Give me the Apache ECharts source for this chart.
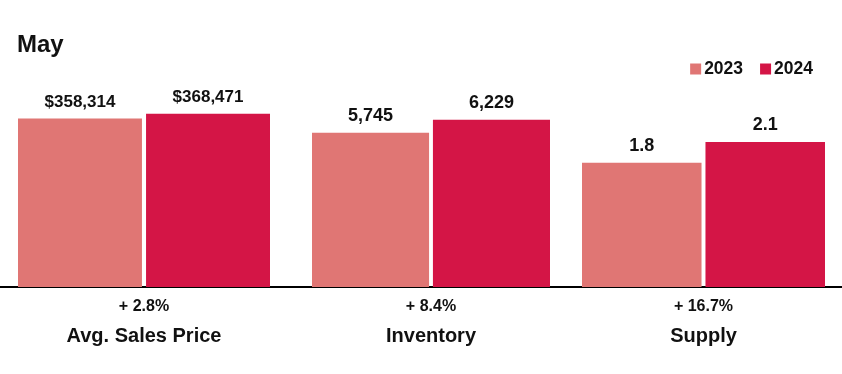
<!DOCTYPE html>
<html>
<head>
<meta charset="utf-8">
<style>
html,body{margin:0;padding:0;background:#fff;}
#chart{width:842px;height:374px;}
</style>
<script src="https://cdn.jsdelivr.net/npm/echarts@6/dist/echarts.min.js"></script>
</head>
<body>
<div id="chart"></div>
<script>
const title = 'May';
const years = ['2023', '2024'];
const categories = ['Avg. Sales Price', 'Inventory', 'Supply'];
const changes = ['+ 2.8%', '+ 8.4%', '+ 16.7%'];
const values2023 = [358314, 5745, 1.8];
const values2024 = [368471, 6229, 2.1];
const axisMax = [525000, 9196, 3.577];

const colors = ['#E07674', '#D41546'];
const FONT = '"Liberation Sans", Arial, Helvetica, sans-serif';

const gridPos = [
  { left: 18, width: 252 },
  { left: 312, width: 238 },
  { left: 582, width: 243 }
];
const valueFont = [17, 18, 18];

function fmt(i, v) {
  if (i === 0) return '$' + v.toLocaleString('en-US');
  if (i === 1) return v.toLocaleString('en-US');
  return v.toFixed(1);
}

const grid = [], xAxis = [], yAxis = [], series = [];
categories.forEach((cat, i) => {
  grid.push({ left: gridPos[i].left, width: gridPos[i].width, top: 40, bottom: 87 });
  xAxis.push({
    type: 'category', gridIndex: i, data: [cat],
    axisLine: { show: false }, axisTick: { show: false },
    axisLabel: {
      margin: 10,
      formatter: () => '{pct|' + changes[i] + '}\n{name|' + cat + '}',
      rich: {
        pct: { fontFamily: FONT, fontSize: 16, fontWeight: 'bold', color: '#111', lineHeight: 20 },
        name: { fontFamily: FONT, fontSize: 20, fontWeight: 'bold', color: '#111', lineHeight: 38 }
      }
    }
  });
  yAxis.push({ type: 'value', gridIndex: i, min: 0, max: axisMax[i], show: false, splitLine: { show: false } });
  [values2023, values2024].forEach((vals, s) => {
    series.push({
      name: years[s], type: 'bar', xAxisIndex: i, yAxisIndex: i,
      data: [vals[i]],
      barGap: '3.3%', barCategoryGap: '0%',
      itemStyle: { color: colors[s] },
      label: {
        show: true, position: 'top', distance: 8,
        fontFamily: FONT, fontSize: valueFont[i], fontWeight: 'bold', color: '#111',
        formatter: (p) => fmt(i, p.value)
      }
    });
  });
});

// full-width baseline
grid.push({ left: 0, right: 0, top: 40, bottom: 87 });
xAxis.push({ type: 'value', gridIndex: 3, min: 0, max: 1, axisLine: { show: true, onZero: false, lineStyle: { color: '#000', width: 2 } }, axisTick: { show: false }, axisLabel: { show: false }, splitLine: { show: false } });
yAxis.push({ type: 'value', gridIndex: 3, show: false, splitLine: { show: false } });

const chart = echarts.init(document.getElementById('chart'), null, { renderer: 'canvas' });
chart.setOption({
  animation: false,
  backgroundColor: '#fff',
  title: { text: title, left: 12, top: 28, textStyle: { fontFamily: FONT, fontSize: 24, fontWeight: 'bold', color: '#111' } },
  legend: {
    data: years, right: 24, top: 55, icon: 'rect', itemWidth: 11, itemHeight: 11, itemGap: 17,
    textStyle: { fontFamily: FONT, fontSize: 17.5, fontWeight: 'bold', color: '#111', padding: [0, 0, 0, -2] }
  },
  grid, xAxis, yAxis, series
});
</script>
</body>
</html>
